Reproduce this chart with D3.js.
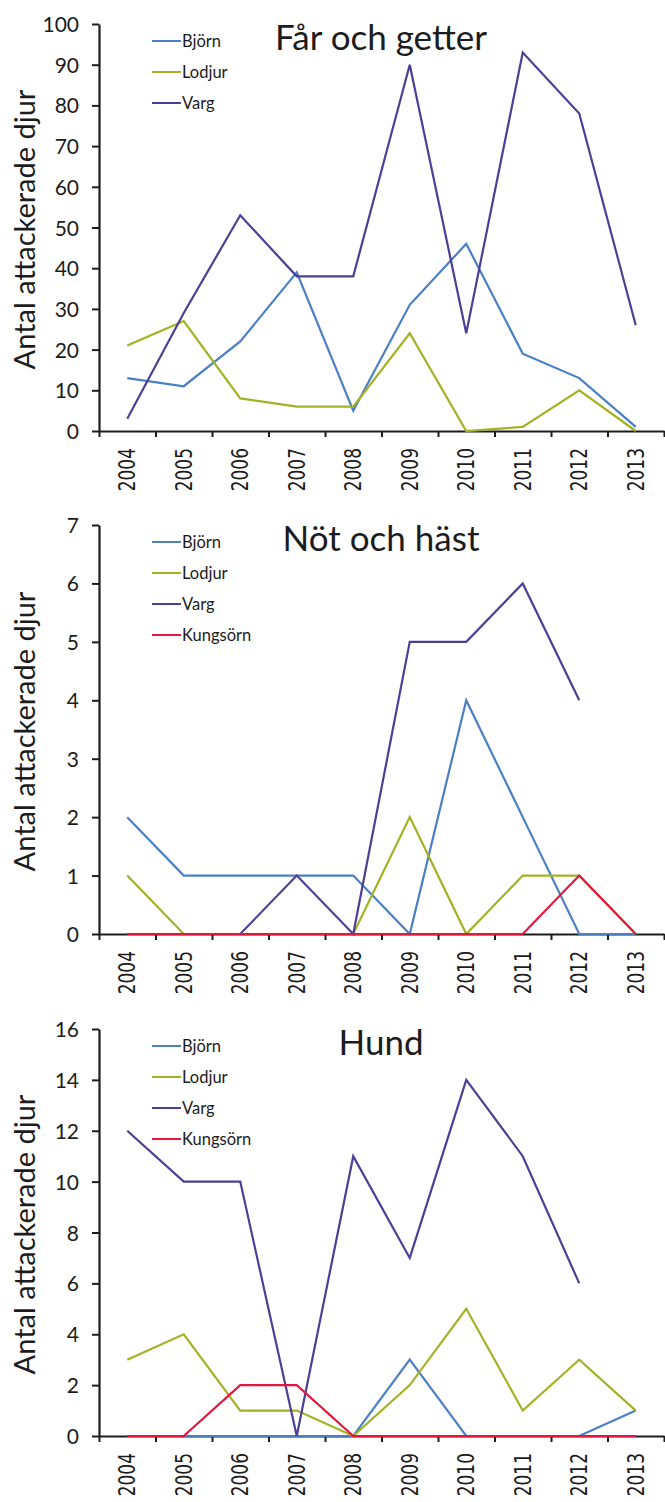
<!DOCTYPE html>
<html>
<head>
<meta charset="utf-8">
<script src="https://cdn.jsdelivr.net/npm/d3@7"></script>
<style>
  html, body { margin: 0; padding: 0; background: #fff; }
  svg { display: block; }
</style>
</head>
<body>
<script>
// ---- Data ----
const years = ["2004","2005","2006","2007","2008","2009","2010","2011","2012","2013"];

const sheepBjorn  = [13, 11, 22, 39, 5, 31, 46, 19, 13, 1];
const sheepLodjur = [21, 27, 8, 6, 6, 24, 0, 1, 10, 0];
const sheepVarg   = [3, 29, 53, 38, 38, 90, 24, 93, 78, 26];

const cattleBjorn    = [2, 1, 1, 1, 1, 0, 4, 2, 0, 0];
const cattleLodjur   = [1, 0, 0, 0, 0, 2, 0, 1, 1, 0];
const cattleVarg     = [0, 0, 0, 1, 0, 5, 5, 6, 4, null];
const cattleKungsorn = [0, 0, 0, 0, 0, 0, 0, 0, 1, 0];

const dogBjorn    = [0, 0, 0, 0, 0, 3, 0, 0, 0, 1];
const dogLodjur   = [3, 4, 1, 1, 0, 2, 5, 1, 3, 1];
const dogVarg     = [12, 10, 10, 0, 11, 7, 14, 11, 6, null];
const dogKungsorn = [0, 0, 2, 2, 0, 0, 0, 0, 0, 0];

const titles = ["Får och getter", "Nöt och häst", "Hund"];
const yLabel = "Antal attackerade djur";
const seriesNames = ["Björn", "Lodjur", "Varg", "Kungsörn"];
const sheepTicks  = [0,10,20,30,40,50,60,70,80,90,100];
const cattleTicks = [0,1,2,3,4,5,6,7];
const dogTicks    = [0,2,4,6,8,10,12,14,16];

// ---- Style / layout ----
const colors = { "Björn": "#4a7fc6", "Lodjur": "#a3b224", "Varg": "#4e3f96", "Kungsörn": "#e2173d" };
const layout = [
  { top: 24,   bottom: 431 },
  { top: 525,  bottom: 934 },
  { top: 1029, bottom: 1436 }
];

const panels = [
  { title: titles[0], ticks: sheepTicks,  series: [sheepBjorn, sheepLodjur, sheepVarg] },
  { title: titles[1], ticks: cattleTicks, series: [cattleBjorn, cattleLodjur, cattleVarg, cattleKungsorn] },
  { title: titles[2], ticks: dogTicks,    series: [dogBjorn, dogLodjur, dogVarg, dogKungsorn] }
];

const W = 665, H = 1502;
const svg = d3.select("body").append("svg").attr("width", W).attr("height", H);

const xLeft = 99, xRight = 664;
const x = d3.scaleBand().domain(years).range([xLeft, xRight]);
const xb = d3.scaleLinear().domain([0, years.length]).range([xLeft, xRight]);
const bw = x.bandwidth();

panels.forEach((p, pi) => {
  const L = layout[pi];
  const g = svg.append("g");
  const yMax = d3.max(p.ticks);
  const y = d3.scaleLinear().domain([0, yMax]).range([L.bottom, L.top]);

  // x axis
  const xAxis = d3.axisBottom(xb).tickValues(d3.range(0, years.length + 1))
    .tickSize(6).tickSizeOuter(0).tickFormat("");
  const gx = g.append("g").attr("transform", `translate(0,${L.bottom})`).call(xAxis);
  gx.select(".domain").attr("stroke", "#1c1c1c").attr("stroke-width", 2);
  gx.selectAll(".tick line").attr("stroke", "#1c1c1c").attr("stroke-width", 2);

  // year labels
  g.selectAll(".yr").data(years).enter().append("text")
    .attr("transform", d => `translate(${x(d) + bw / 2 + 8},${L.bottom + 17}) rotate(-90) scale(1,1.3)`)
    .attr("text-anchor", "end")
    .style("font-family", "'DejaVu Sans', Verdana, sans-serif")
    .style("font-size", "17px")
    .attr("fill", "#1c1c1c")
    .text(d => d);

  // y axis
  const yAxis = d3.axisLeft(y).tickValues(p.ticks).tickSize(7).tickSizeOuter(0)
    .tickPadding(13).tickFormat(d3.format("d"));
  const gy = g.append("g").attr("transform", `translate(${xLeft},0)`).call(yAxis);
  gy.select(".domain").attr("stroke", "#1c1c1c").attr("stroke-width", 2.2);
  gy.selectAll(".tick line").attr("stroke", "#1c1c1c").attr("stroke-width", 2);
  gy.selectAll(".tick text")
    .attr("font-family", "Lato").attr("font-size", 21).attr("fill", "#1c1c1c").attr("dy", "0.36em");

  // y label
  g.append("text")
    .attr("transform", `translate(35,${(L.top + L.bottom) / 2 + 2}) rotate(-90)`)
    .attr("text-anchor", "middle")
    .attr("font-family", "Lato").attr("font-size", 29).attr("fill", "#1c1c1c")
    .text(yLabel);

  // title
  g.append("text")
    .attr("x", 381).attr("y", L.top + 26)
    .attr("text-anchor", "middle")
    .attr("font-family", "Lato").attr("font-size", 35).attr("fill", "#1c1c1c")
    .text(p.title);

  // lines
  const line = d3.line()
    .defined(d => d != null)
    .x((d, i) => x(years[i]) + bw / 2)
    .y(d => y(d));

  p.series.forEach((vals, si) => {
    const name = seriesNames[si];
    g.append("path")
      .attr("d", line(vals))
      .attr("fill", "none")
      .attr("stroke", colors[name])
      .attr("stroke-width", 2.2)
      .attr("stroke-linejoin", "miter");
  });

  // legend
  const lg = g.append("g");
  p.series.forEach((vals, si) => {
    const name = seriesNames[si];
    const ly = L.top + 17 + si * 31;
    lg.append("line").attr("x1", 152).attr("x2", 181).attr("y1", ly).attr("y2", ly)
      .attr("stroke", colors[name]).attr("stroke-width", 2);
    lg.append("text").attr("x", 182).attr("y", ly).attr("dy", "0.35em")
      .attr("font-family", "Lato").attr("font-size", 16.5).attr("fill", "#1c1c1c")
      .text(name);
  });
});
</script>
</body>
</html>
